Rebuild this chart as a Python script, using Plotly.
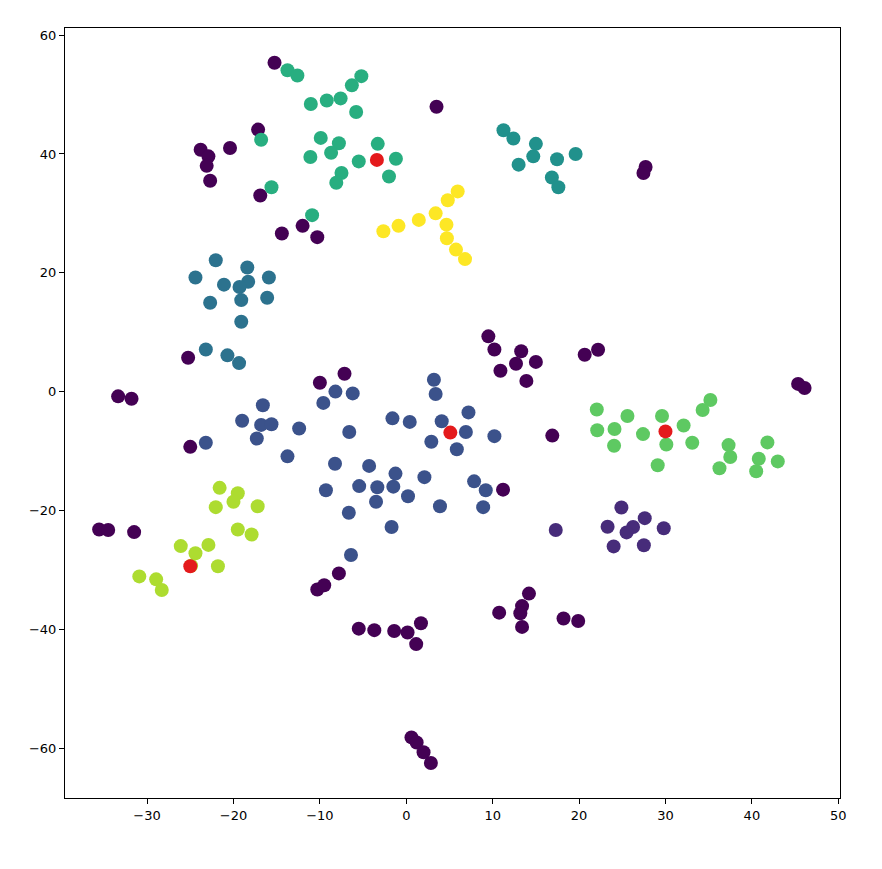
import plotly.graph_objects as go

# ---- data ----
noise_x = [-15.25, -17.15, -20.4, -23.8, -22.9, -23.1, -22.7, -16.9, -12.0, -14.4, -10.3, 3.5, 27.7, 27.45,
           -25.25, -33.35, -31.8, -10.0, -7.15, 9.5, 10.2, 13.3, 12.7, 15.0, 10.9, 13.9, 20.65, 22.2, 45.35, 46.1,
           16.9, -25.0, 11.2, -35.55, -34.5, -31.5, -10.3, -9.5, -7.8, -5.5, -3.7, -1.4, 0.15, 1.7, 1.15,
           10.75, 14.2, 13.4, 13.2, 13.4, 18.2, 19.9, 0.6, 1.2, 2.0, 2.85]
noise_y = [55.35, 44.1, 41.0, 40.7, 39.6, 38.0, 35.5, 33.0, 27.9, 26.6, 26.0, 47.95, 37.8, 36.8,
           5.7, -0.8, -1.2, 1.5, 3.0, 9.3, 7.1, 6.8, 4.7, 5.0, 3.5, 1.8, 6.2, 7.05, 1.3, 0.6,
           -7.4, -9.3, -16.5, -23.2, -23.3, -23.65, -33.3, -32.6, -30.6, -39.9, -40.15, -40.3, -40.55, -39.0, -42.5,
           -37.2, -34.0, -36.1, -37.3, -39.6, -38.2, -38.6, -58.2, -59.05, -60.7, -62.5]

purple_x = [17.3, 24.9, 23.3, 27.6, 26.25, 25.5, 29.8, 24.0, 27.5]
purple_y = [-23.3, -19.5, -22.75, -21.3, -22.8, -23.7, -23.0, -26.05, -25.85]

blue_x = [-8.2, -6.2, -9.6, -16.6, -19.0, -16.8, -15.6, -12.4, -17.3, -23.2, -13.75, 3.2, 3.4, -1.6, 0.4,
          4.1, 7.2, 6.9, -6.6, 2.9, 10.2, 5.85, -8.25, -4.3, -1.25, 2.1, -9.3, -5.45, -3.35, -1.5, -3.5,
          0.2, -6.65, 3.9, 7.85, 9.2, 8.9, -1.7, -6.4]
blue_y = [0.0, -0.3, -1.9, -2.3, -4.9, -5.6, -5.5, -6.2, -7.9, -8.6, -10.9, 2.0, -0.4, -4.5, -5.1,
          -5.0, -3.5, -6.8, -6.8, -8.45, -7.5, -9.7, -12.15, -12.5, -13.8, -14.4, -16.6, -15.9, -16.1, -16.0, -18.55,
          -17.6, -20.4, -19.3, -15.1, -16.6, -19.45, -22.8, -27.5]

tealblue_x = [-22.05, -18.4, -24.4, -15.9, -18.3, -21.1, -19.3, -22.7, -19.1, -16.1, -19.1, -23.2, -20.7, -19.35]
tealblue_y = [22.1, 20.9, 19.2, 19.2, 18.5, 18.0, 17.6, 14.95, 15.4, 15.8, 11.75, 7.1, 6.1, 4.8]

teal_x = [11.25, 12.4, 15.0, 14.7, 13.0, 17.45, 19.6, 16.85, 17.6]
teal_y = [44.0, 42.6, 41.7, 39.6, 38.2, 39.1, 40.0, 36.05, 34.4]

green_x = [-13.75, -12.6, -11.05, -9.2, -5.2, -6.3, -7.6, -5.8, -16.8, -9.9, -11.1, -15.6, -10.9,
           -7.8, -8.7, -3.3, -5.5, -1.2, -7.5, -8.1, -2.0]
green_y = [54.1, 53.2, 48.4, 49.0, 53.1, 51.55, 49.35, 47.05, 42.4, 42.7, 39.5, 34.4, 29.7,
           41.8, 40.2, 41.7, 38.75, 39.2, 36.8, 35.15, 36.2]

lgreen_x = [22.05, 25.6, 29.6, 35.2, 34.3, 32.1, 22.1, 24.1, 27.4, 30.1, 33.1, 24.05, 37.3, 37.5, 36.25,
            41.8, 40.8, 43.0, 40.5, 29.1]
lgreen_y = [-3.0, -4.1, -4.1, -1.4, -3.1, -5.7, -6.5, -6.3, -7.15, -8.9, -8.6, -9.1, -9.0, -11.0, -12.9,
            -8.55, -11.3, -11.75, -13.4, -12.4]

ygreen_x = [-21.6, -19.5, -20.0, -22.05, -17.2, -19.5, -17.9, -26.1, -22.9, -24.4, -24.9, -21.8, -30.9, -28.95, -28.3]
ygreen_y = [-16.2, -17.1, -18.55, -19.45, -19.3, -23.2, -24.05, -26.0, -25.8, -27.2, -29.3, -29.4, -31.1, -31.6, -33.4]

yellow_x = [5.95, 4.8, 3.4, 1.45, -0.9, -2.65, 4.65, 4.7, 5.75, 6.8]
yellow_y = [33.7, 32.2, 30.0, 28.9, 27.9, 27.0, 28.1, 25.8, 23.9, 22.3]

red_x = [-3.4, 5.1, 30.0, -25.0]
red_y = [39.0, -6.9, -6.7, -29.4]

groups = [
    (noise_x, noise_y, "#440154"),
    (purple_x, purple_y, "#472c7a"),
    (blue_x, blue_y, "#3b528b"),
    (tealblue_x, tealblue_y, "#2c728e"),
    (teal_x, teal_y, "#21918c"),
    (green_x, green_y, "#28ae80"),
    (lgreen_x, lgreen_y, "#5ec962"),
    (ygreen_x, ygreen_y, "#addc30"),
    (yellow_x, yellow_y, "#fde725"),
    (red_x, red_y, "#e41a1c"),
]

fig = go.Figure()
for gx, gy, col in groups:
    fig.add_trace(go.Scatter(x=gx, y=gy, mode="markers",
                             marker=dict(size=14, color=col, line=dict(width=0)),
                             showlegend=False))

axis_common = dict(showgrid=False, zeroline=False, showline=True, linecolor="black", linewidth=1,
                   mirror=True, ticks="outside", ticklen=5, tickwidth=1, tickcolor="black",
                   tickfont=dict(family="DejaVu Sans", size=13, color="black"))
fig.update_xaxes(range=[-39.5, 50.2], tickmode="array", tickvals=[-30, -20, -10, 0, 10, 20, 30, 40, 50],
                 **axis_common)
fig.update_yaxes(range=[-68.4, 61.2], tickmode="array", tickvals=[-60, -40, -20, 0, 20, 40, 60],
                 **axis_common)
fig.update_layout(width=882, height=869, margin=dict(l=57, r=50, t=20, b=79),
                  plot_bgcolor="white", paper_bgcolor="white")
fig.write_html("out.html")
